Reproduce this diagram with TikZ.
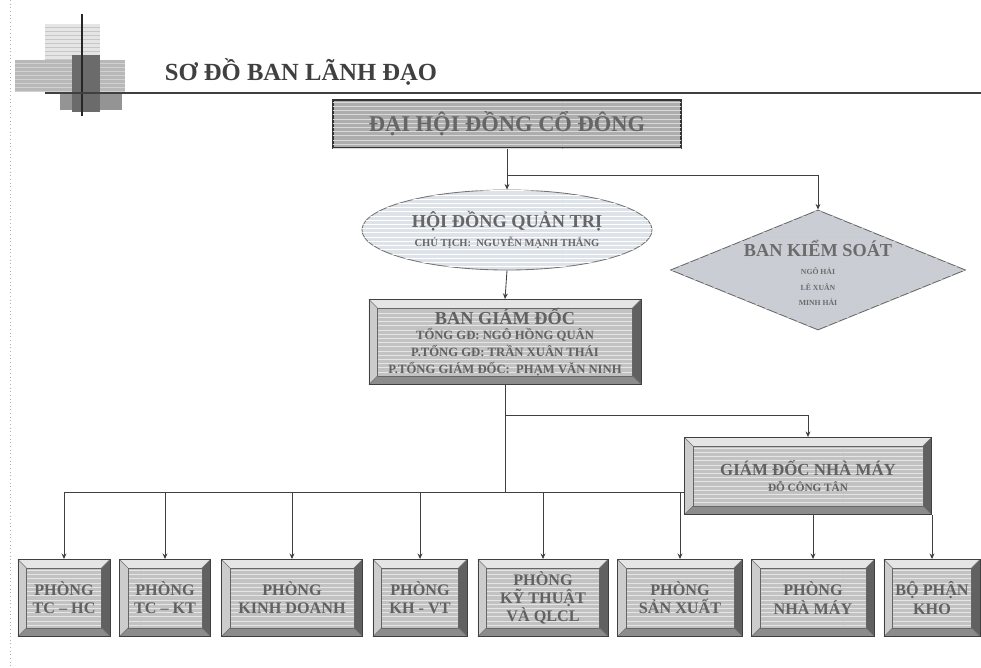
\documentclass[tikz,border=0pt]{standalone}
\usepackage{fontspec}
\setmainfont{Liberation Serif}
\usetikzlibrary{arrows.meta,shapes.geometric,patterns,backgrounds}

\tikzset{
  link/.style={draw=black!75, line width=0.6pt, -{Stealth[length=4pt,width=3.5pt]}},
  wire/.style={draw=black!75, line width=0.6pt},
  % raised frame with bevelled edges
  frame/.style={draw=black!75, line width=0.6pt, fill=black!28, text=black!62,
    align=center, inner sep=0pt, font=\bfseries,
    path picture={
      \coordinate (nw) at (path picture bounding box.north west);
      \coordinate (ne) at (path picture bounding box.north east);
      \coordinate (sw) at (path picture bounding box.south west);
      \coordinate (se) at (path picture bounding box.south east);
      \coordinate (inw) at ([shift={(6pt,-6pt)}]nw);
      \coordinate (ine) at ([shift={(-6pt,-6pt)}]ne);
      \coordinate (isw) at ([shift={(6pt,6pt)}]sw);
      \coordinate (ise) at ([shift={(-6pt,6pt)}]se);
      \fill[black!10] (nw) -- (ne) -- (ine) -- (inw) -- cycle;
      \fill[black!20] (nw) -- (sw) -- (isw) -- (inw) -- cycle;
      \fill[black!62] (ne) -- (se) -- (ise) -- (ine) -- cycle;
      \fill[black!45] (sw) -- (se) -- (ise) -- (isw) -- cycle;
      \fill[black!24] (inw) rectangle (ise);
      \fill[pattern=horizontal lines, pattern color=black!10] (inw) rectangle (ise);
      \draw[black!60, line width=0.4pt] (inw) rectangle (ise);
      \foreach \c in {nw,ne,sw,se} \draw[black!55, line width=0.3pt] (\c) -- (i\c);
    }},
  bar/.style={draw=black!80, line width=0.9pt, fill=black!32, text=black!60,
    inner sep=0pt, font=\bfseries,
    postaction={pattern=horizontal lines, pattern color=black!15}},
  oval/.style={ellipse, draw=black!55, line width=0.6pt, fill={rgb,255:red,222;green,226;blue,233},
    text=black!60, align=center, inner sep=0pt, font=\bfseries,
    postaction={pattern=horizontal lines, pattern color=white}},
  rhomb/.style={diamond, draw=black!60, line width=0.6pt, fill={rgb,255:red,200;green,205;blue,214},
    inner sep=0pt, postaction={pattern=horizontal lines, pattern color=white!80!black}},
  lbl/.style={text=black!58, align=center, inner sep=0pt, font=\bfseries},
}

\begin{document}
\begin{tikzpicture}[x=0.025cm, y=-0.025cm]
  \useasboundingbox (0,0) rectangle (981,668);

  % left margin and heading mark
  \draw[black!30, dotted, line width=0.6pt] (10,0) -- (10,668);
  \fill[black!10] (45,24) rectangle (100,60);
  \foreach \y in {27,31,...,59} \draw[black!22, line width=0.5pt] (45,\y) -- (100,\y);
  \fill[black!28] (15,60) rectangle (125,92);
  \foreach \y in {63,67,...,91} \draw[black!18, line width=0.5pt] (15,\y) -- (125,\y);
  \fill[black!42] (60,92) rectangle (122,110);
  \fill[black!58] (72,55) rectangle (100,112);
  \draw[line width=2pt, black!85] (82,14) -- (82,116);
  \draw[line width=1.5pt, black!75] (45,93) -- (981,93);
  \node[anchor=base west, text=black!75, font=\fontsize{17.5}{20}\selectfont\bfseries] (title) at (160,81)
    {SƠ ĐỒ BAN LÃNH ĐẠO};

  % upper levels
  \node[bar, minimum width=8.7cm, minimum height=1.2cm, font=\fontsize{16}{18}\selectfont\bfseries]
    (dhcd) at (507,124) {ĐẠI HỘI ĐỒNG CỔ ĐÔNG};
  \node[oval, minimum width=7.25cm, minimum height=2cm] (hdqt) at (507,230)
    {{\fontsize{13}{15}\selectfont HỘI ĐỒNG QUẢN TRỊ}\\[1pt]
     {\fontsize{7.5}{9}\selectfont CHỦ TỊCH: \ NGUYỄN MẠNH THẮNG}};
  \node[rhomb, aspect=2.46, minimum width=7.375cm, minimum height=3cm] (bks) at (818,270) {};
  \node[lbl] (bkstext) at (818,273)
    {{\fontsize{13}{15}\selectfont BAN KIỂM SOÁT}\\[1pt]
     {\fontsize{5.5}{7}\selectfont NGÔ HẢI}\\[-1pt]
     {\fontsize{5.5}{7}\selectfont LÊ XUÂN}\\[-1pt]
     {\fontsize{5.5}{7}\selectfont MINH HẢI}};
  \node[frame, minimum width=6.8cm, minimum height=2.125cm] (bgd) at (505,342)
    {{\fontsize{13}{14}\selectfont BAN GIÁM ĐỐC}\\[-1pt]
     {\fontsize{9}{11}\selectfont TỔNG GĐ: NGÔ HỒNG QUÂN}\\
     {\fontsize{9}{11}\selectfont P.TỔNG GĐ: TRẦN XUÂN THÁI}\\
     {\fontsize{9}{11}\selectfont P.TỔNG GIÁM ĐỐC: \ PHẠM VĂN NINH}};
  \node[frame, minimum width=6.175cm, minimum height=1.925cm] (gdnm) at (808,476)
    {{\fontsize{12}{14}\selectfont GIÁM ĐỐC NHÀ MÁY}\\
     {\fontsize{8}{10}\selectfont ĐỖ CÔNG TÂN}};

  % departments
  \foreach \n/\x/\w/\t in {p1/64/2.3/{PHÒNG\\TC -- HC}, p2/165/2.275/{PHÒNG\\TC -- KT},
      p3/292/3.525/{PHÒNG\\KINH DOANH}, p4/420/2.35/{PHÒNG\\KH - VT},
      p5/543/3.25/{PHÒNG\\KỸ THUẬT\\VÀ QLCL}, p6/680/3.125/{PHÒNG\\SẢN XUẤT},
      p7/813/3.075/{PHÒNG\\NHÀ MÁY}, p8/932/2.4/{BỘ PHẬN\\KHO}}
    \node[frame, minimum width=\w cm, minimum height=1.925cm,
      font=\fontsize{11.5}{13}\selectfont\bfseries] (\n) at (\x,598) {\t};

  % connectors, kept behind the boxes
  \begin{scope}[on background layer]
    \fill[white] (0,0) rectangle (981,668);
    \coordinate (j1) at (507,175);
    \draw[link] (dhcd.south) -- (hdqt.north);
    \draw[link] (j1) -| (bks.north);
    \draw[link] (hdqt.south) -- (bgd.north);
    \path (bgd.south) ++(0,30) coordinate (j2) ++(0,77) coordinate (bus);
    \draw[wire] (bgd.south) -- (bus);
    \draw[link] (j2) -| (gdnm.north);
    \draw[wire] (p1.north |- bus) -- (gdnm.west |- bus);
    \foreach \i in {1,...,6} \draw[link] (p\i.north |- bus) -- (p\i.north);
    \foreach \i in {7,8} \draw[link] (p\i.north |- gdnm.south) -- (p\i.north);
  \end{scope}
\end{tikzpicture}
\end{document}
